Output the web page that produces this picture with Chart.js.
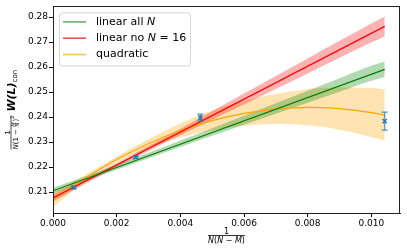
<!DOCTYPE html>
<html>
<head>
<meta charset="utf-8">
<script src="https://cdn.jsdelivr.net/npm/chart.js@4/dist/chart.umd.min.js"></script>
<style>
  html, body { margin: 0; padding: 0; background: #fff; }
  #wrap { width: 407px; height: 252px; }
</style>
</head>
<body>
<div id="wrap"><canvas id="myChart" width="407" height="252"></canvas></div>
<script>
// tick labels
const xTicks = [0, 0.002, 0.004, 0.006, 0.008, 0.010];
const yTicks = [0.21, 0.22, 0.23, 0.24, 0.25, 0.26, 0.27, 0.28];

// data points with error bars
const pointX = [0.00065, 0.0026, 0.00463, 0.01042];
const pointY = [0.2118, 0.2239, 0.2398, 0.2384];
const pointErr = [0.0003, 0.0004, 0.0014, 0.0036];

// fit lines
const lineX = [0, 0.01042];
const linAllY = [0.2105, 0.2591];
const linNo16Y = [0.2076, 0.2763];

const bandX = [0, 0.001, 0.002, 0.003, 0.004, 0.005, 0.006, 0.007, 0.008, 0.009, 0.010, 0.01042];
const quadY = [0.2068, 0.2155, 0.2230, 0.2293, 0.2346, 0.2386, 0.2415, 0.2432, 0.2439, 0.2434, 0.2418, 0.2408];

// error bands
const linAllUp = [0.2117, 0.2162, 0.2209, 0.2257, 0.2306, 0.2355, 0.2405, 0.2455, 0.2505, 0.2555, 0.2605, 0.2622];
const linAllLo = [0.2093, 0.2142, 0.2189, 0.2235, 0.2280, 0.2325, 0.2369, 0.2413, 0.2457, 0.2501, 0.2545, 0.2560];
const linNo16Up = [0.2091, 0.2152, 0.2216, 0.2284, 0.2353, 0.2423, 0.2494, 0.2564, 0.2634, 0.2705, 0.2775, 0.2803];
const linNo16Lo = [0.2061, 0.2132, 0.2200, 0.2264, 0.2327, 0.2389, 0.2450, 0.2512, 0.2574, 0.2637, 0.2699, 0.2723];
const quadUp = [0.2096, 0.2167, 0.2242, 0.2311, 0.2374, 0.2426, 0.2465, 0.2492, 0.2511, 0.2519, 0.2516, 0.2511];
const quadLo = [0.2040, 0.2143, 0.2218, 0.2275, 0.2318, 0.2346, 0.2365, 0.2372, 0.2367, 0.2349, 0.2320, 0.2305];

const FONT = "'DejaVu Sans', sans-serif";

function pts(xs, ys) {
  return xs.map((x, i) => ({ x: x, y: ys[i] }));
}

function band(ys, color, fill) {
  return {
    data: pts(bandX, ys),
    borderWidth: 0,
    borderColor: 'rgba(0,0,0,0)',
    backgroundColor: color,
    pointRadius: 0,
    fill: fill,
    cubicInterpolationMode: 'monotone',
    order: 3
  };
}

// legend entries: [color, text pieces (text, italic)]
const legendItems = [
  ['#5fae5f', [['linear all ', false], ['N', true]]],
  ['#f04848', [['linear no ', false], ['N', true], [' = 16', false]]],
  ['#ffbf4a', [['quadratic', false]]]
];

const extras = {
  id: 'extras',
  afterDatasetsDraw(chart) {
    const ctx = chart.ctx, xs = chart.scales.x, ys = chart.scales.y;
    ctx.save();
    ctx.strokeStyle = 'rgba(31,119,180,0.8)';
    ctx.lineWidth = 1.2;
    pointX.forEach((x, i) => {
      const px = xs.getPixelForValue(x);
      const y1 = ys.getPixelForValue(pointY[i] - pointErr[i]);
      const y2 = ys.getPixelForValue(pointY[i] + pointErr[i]);
      ctx.beginPath();
      ctx.moveTo(px, y1); ctx.lineTo(px, y2);
      ctx.moveTo(px - 3, y1); ctx.lineTo(px + 3, y1);
      ctx.moveTo(px - 3, y2); ctx.lineTo(px + 3, y2);
      ctx.stroke();
    });
    ctx.restore();
  },
  afterDraw(chart) {
    const ctx = chart.ctx, a = chart.chartArea;
    ctx.save();
    // frame
    ctx.strokeStyle = '#222';
    ctx.lineWidth = 1;
    ctx.strokeRect(Math.round(a.left) + 0.5, Math.round(a.top) + 0.5,
      Math.round(a.right - a.left) - 1, Math.round(a.bottom - a.top));

    // legend
    const lx = a.left + 6, ly = a.top + 6, lw = 131, lh = 53;
    ctx.beginPath();
    ctx.roundRect(lx + 0.5, ly + 0.5, lw, lh, 3);
    ctx.fillStyle = 'rgba(255,255,255,0.85)';
    ctx.fill();
    ctx.strokeStyle = '#d6d6d6';
    ctx.stroke();
    legendItems.forEach((item, i) => {
      const cy = ly + 9.5 + i * 16.3;
      ctx.strokeStyle = item[0];
      ctx.lineWidth = 1.5;
      ctx.beginPath();
      ctx.moveTo(lx + 4, cy); ctx.lineTo(lx + 27, cy);
      ctx.stroke();
      let tx = lx + 37;
      ctx.fillStyle = '#000';
      ctx.textBaseline = 'middle';
      ctx.textAlign = 'left';
      item[1].forEach(p => {
        ctx.font = (p[1] ? 'italic ' : '') + '11px ' + FONT;
        ctx.fillText(p[0], tx, cy);
        tx += ctx.measureText(p[0]).width;
      });
    });

    // x axis title: 1 / N(N - M)
    const cx = (a.left + a.right) / 2;
    ctx.textBaseline = 'alphabetic';
    ctx.textAlign = 'left';
    const den = [['N', true], ['(', false], ['N', true], [' \u2212 ', false], ['M', true], [')', false]];
    let dw = 0;
    den.forEach(p => { ctx.font = (p[1] ? 'italic ' : '') + '8px ' + FONT; dw += ctx.measureText(p[0]).width; });
    ctx.font = '8px ' + FONT;
    ctx.textAlign = 'center';
    ctx.fillText('1', cx, a.bottom + 20.5);
    ctx.strokeStyle = '#000';
    ctx.lineWidth = 0.8;
    ctx.beginPath();
    ctx.moveTo(cx - dw / 2, a.bottom + 22.5); ctx.lineTo(cx + dw / 2, a.bottom + 22.5);
    ctx.stroke();
    ctx.textAlign = 'left';
    let dx = cx - dw / 2;
    den.forEach(p => {
      ctx.font = (p[1] ? 'italic ' : '') + '8px ' + FONT;
      ctx.fillText(p[0], dx, a.bottom + 30);
      dx += ctx.measureText(p[0]).width;
    });

    // y axis title: 1 / (N(1 - M/N)^2) W(L)_con, rotated
    const cyMid = (a.top + a.bottom) / 2;
    ctx.translate(0, cyMid);
    ctx.rotate(-Math.PI / 2);
    const f7 = '7px ' + FONT, f7i = 'italic 7px ' + FONT, f5i = 'italic 5px ' + FONT, f5 = '5px ' + FONT;
    const wd = (f, t) => { ctx.font = f; return ctx.measureText(t).width; };
    const wN = wd(f7i, 'N'), wP = wd(f7, '(1 \u2212 '), wMN = Math.max(wd(f5i, 'M'), wd(f5i, 'N')),
      wC = wd(f7, ')'), w2 = wd(f5, '2');
    const denW = wN + wP + wMN + 1 + wC + w2;
    const wWL = wd('italic bold 11px ' + FONT, 'W(L)');
    const wCon = wd('7px ' + FONT, 'con');
    const total = denW + 4 + wWL + wCon;
    let x0 = -total / 2;
    // fraction
    ctx.fillStyle = '#000';
    ctx.font = f7;
    ctx.textAlign = 'center';
    ctx.fillText('1', x0 + denW / 2, 9.5);
    ctx.beginPath();
    ctx.moveTo(x0, 11); ctx.lineTo(x0 + denW, 11);
    ctx.lineWidth = 0.7;
    ctx.stroke();
    ctx.textAlign = 'left';
    let t = x0;
    ctx.font = f7i; ctx.fillText('N', t, 17.5); t += wN;
    ctx.font = f7; ctx.fillText('(1 \u2212 ', t, 17.5); t += wP;
    ctx.font = f5i;
    ctx.textAlign = 'center';
    ctx.fillText('M', t + wMN / 2, 14.6);
    ctx.fillText('N', t + wMN / 2, 19.2);
    ctx.beginPath();
    ctx.moveTo(t, 15.4); ctx.lineTo(t + wMN, 15.4);
    ctx.lineWidth = 0.4;
    ctx.stroke();
    ctx.textAlign = 'left';
    t += wMN + 1;
    ctx.font = f7; ctx.fillText(')', t, 17.5); t += wC;
    ctx.font = f5; ctx.fillText('2', t, 14); t += w2;
    // W(L)_con
    t = x0 + denW + 4;
    ctx.font = 'italic bold 11px ' + FONT;
    ctx.fillText('W(L)', t, 14.5);
    t += wWL;
    ctx.font = '7px ' + FONT;
    ctx.fillText('con', t, 17);
    ctx.restore();
  }
};

const tickFont = { family: FONT, size: 9 };

new Chart(document.getElementById('myChart'), {
  type: 'line',
  data: {
    datasets: [
      band(linAllUp, 'rgba(0,128,0,0.3)', false),
      band(linAllLo, 'rgba(0,128,0,0.3)', '-1'),
      band(linNo16Up, 'rgba(255,0,0,0.3)', false),
      band(linNo16Lo, 'rgba(255,0,0,0.3)', '-1'),
      band(quadUp, 'rgba(255,165,0,0.3)', false),
      band(quadLo, 'rgba(255,165,0,0.3)', '-1'),
      { label: 'linear all N', data: pts(lineX, linAllY), borderColor: '#008000', borderWidth: 1.2,
        pointRadius: 0, fill: false, order: 2 },
      { label: 'linear no N = 16', data: pts(lineX, linNo16Y), borderColor: '#ff0000', borderWidth: 1.2,
        pointRadius: 0, fill: false, order: 2 },
      { label: 'quadratic', data: pts(bandX, quadY), borderColor: '#ffa500', borderWidth: 1.2,
        pointRadius: 0, fill: false, cubicInterpolationMode: 'monotone', order: 2 },
      { label: 'data', data: pts(pointX, pointY), showLine: false, pointStyle: 'crossRot',
        pointRadius: 3, borderColor: '#1f77b4', borderWidth: 1.5, fill: false, order: 1 }
    ]
  },
  options: {
    responsive: false,
    animation: false,
    layout: { padding: { left: 0, right: 7, top: 6, bottom: 0 } },
    plugins: { legend: { display: false }, tooltip: { enabled: false } },
    scales: {
      x: {
        type: 'linear', min: 0, max: 0.0109,
        afterBuildTicks: s => { s.ticks = xTicks.map(v => ({ value: v })); },
        afterFit: s => { s.height = 39; },
        ticks: { callback: v => v.toFixed(3), font: tickFont, color: '#000', padding: 1, maxRotation: 0, autoSkip: false },
        grid: { drawOnChartArea: false, tickLength: 4, color: '#000' },
        border: { color: '#222' }
      },
      y: {
        type: 'linear', min: 0.2016, max: 0.2843,
        afterBuildTicks: s => { s.ticks = yTicks.map(v => ({ value: v })); },
        afterFit: s => { s.width = 53; },
        ticks: { callback: v => v.toFixed(2), font: tickFont, color: '#000', padding: 1, autoSkip: false },
        grid: { drawOnChartArea: false, tickLength: 4, color: '#000' },
        border: { color: '#222' }
      }
    }
  },
  plugins: [extras]
});
</script>
</body>
</html>
